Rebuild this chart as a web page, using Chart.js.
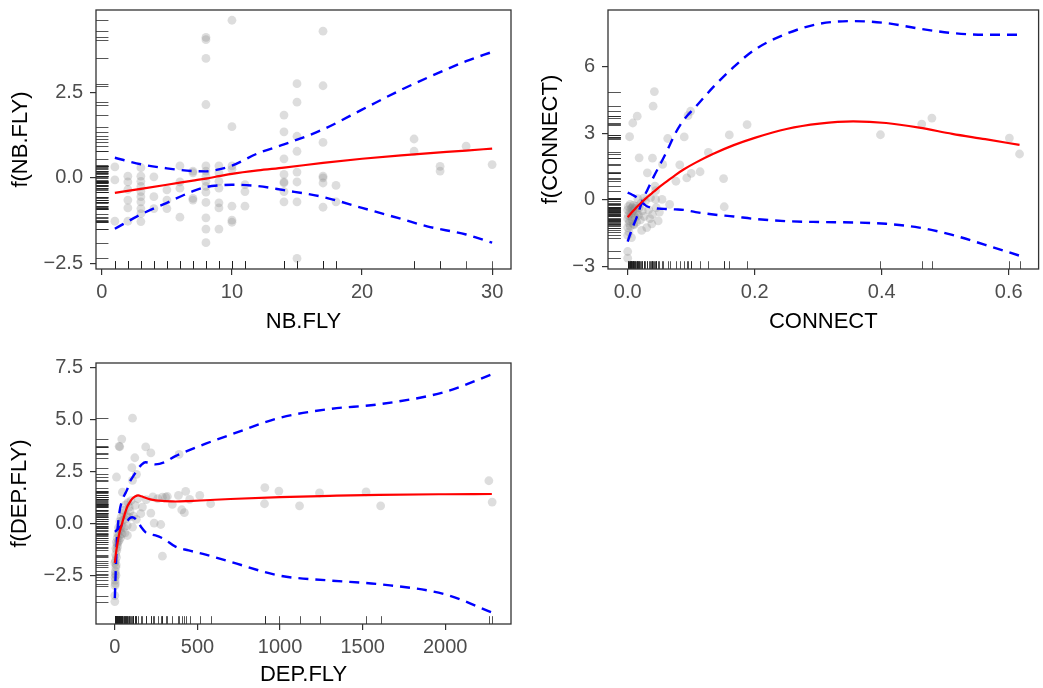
<!DOCTYPE html>
<html><head><meta charset="utf-8">
<script src="https://cdn.jsdelivr.net/npm/chart.js@4.4.1/dist/chart.umd.min.js"></script>
<style>
html,body{margin:0;padding:0;background:#fff;}
#wrap{position:relative;width:1043px;height:688px;overflow:hidden;background:#fff;}
canvas{position:absolute;}
</style></head><body>
<div id="wrap">
<canvas id="c1" width="520" height="340" style="left:0;top:0;width:520px;height:340px"></canvas>
<canvas id="c2" width="523" height="340" style="left:520px;top:0;width:523px;height:340px"></canvas>
<canvas id="c3" width="520" height="348" style="left:0;top:340px;width:520px;height:348px"></canvas>
</div>
<script>
// ---------- NB.FLY ----------
const nbflyPtX = [1,1,1, 2,2,2,2,2,2, 3,3,3,3,3,3,3,3,3,3, 4,4,4, 5,5,5, 6,6,6,6, 7,7,7,7, 8,8,8,8,8,8,8,8,8,8,8,8,8,8, 9,9,9,9,9,9,9, 10,10,10,10,10,10,10, 11,11,11, 14,14,14,14,14,14,14,14, 15,15,15,15,15,15,15,15, 17,17,17,17,17,17,17, 18,18, 24,24, 26,26, 28, 30];
const nbflyPtY = [0.32,-0.06,-1.27, 0.05,-0.12,-0.34,-0.65,-0.88,-1.27, 0.30,0.05,-0.10,-0.25,-0.40,-0.55,-0.70,-0.90,-1.05,-1.28, 0.03,-0.55,-0.90, -0.35,-0.65,-0.90, 0.35,-0.12,-0.30,-1.15, 0.20,0.15,-0.60,-0.65, 4.12,4.05,3.50,2.15,0.35,0.20,0.05,-0.10,-0.25,-0.42,-0.72,-1.17,-1.50,-1.90, 0.35,0.15,-0.10,-0.30,-0.73,-0.88,-1.50, 4.62,1.50,0.35,0.25,-0.83,-1.24,-1.30, -0.20,-0.40,-0.83, 1.84,1.35,0.56,0.10,-0.12,-0.15,-0.40,-0.70, 2.76,2.22,1.22,0.78,0.17,-0.12,-0.70,-2.36, 4.30,2.70,1.04,0.05,0.00,-0.15,-0.86, -0.22,-0.70, 1.14,0.78, 0.34,0.20, 0.93, 0.39];
const nbflyGridX = [1,3,5,7,8,9,10,12,14,17,20,23,25,28,30];
const nbflyFit   = [-0.44,-0.32,-0.20,-0.08,-0.02,0.05,0.12,0.22,0.30,0.44,0.56,0.66,0.72,0.80,0.86];
const nbflyUpper = [0.59,0.40,0.28,0.20,0.19,0.25,0.36,0.72,0.98,1.42,2.00,2.58,2.93,3.42,3.69];
const nbflyLower = [-1.49,-1.07,-0.73,-0.39,-0.27,-0.22,-0.20,-0.24,-0.36,-0.56,-0.88,-1.20,-1.42,-1.66,-1.90];
const nbflyXTicks = [0,10,20,30];
const nbflyYTicks = [-2.5,0,2.5];

// ---------- CONNECT ----------
const connectPtX = [0.000,0.000,0.003,0.008,0.015,0.018,0.042,0.040,0.039,0.031, 0.055,0.063,0.089,0.095,0.099,0.082,0.093,0.100,0.076,0.114, 0.127,0.151,0.152,0.160,0.188,0.398,0.463,0.479,0.601,0.617, 0.043,0.044,0.054,0.044,0.066,0.025,0.039,0.038,0.022,0.010,
  0.000,0.000,0.000,0.000,0.001,0.001,0.002,0.002,0.003,0.003, 0.004,0.004,0.005,0.005,0.006,0.006,0.007,0.007,0.008,0.009, 0.009,0.010,0.011,0.012,0.013,0.014,0.015,0.016,0.017,0.018, 0.020,0.021,0.023,0.026,0.028,0.030,0.033,0.035,0.036,0.045, 0.048,0.050];
const connectPtY = [-2.33,-2.63,2.85,3.47,3.78,1.90,4.89,4.23,1.88,1.22, 1.60,2.77,2.84,3.80,4.00,1.58,0.99,1.20,0.84,1.27, 2.14,0.96,-0.31,2.93,3.40,2.94,3.42,3.69,2.79,2.07, 0.62,0.42,0.02,0.02,-0.20,0.08,-0.66,-1.08,-1.38,-1.13,
  -0.45,-0.85,-1.25,-1.60,-0.30,-0.70,-1.05,-1.45,-0.55,-0.95, -0.20,-1.20,-0.40,-0.75,-0.60,-1.70,-0.35,-0.90,-0.50,-0.25, -1.10,-0.65,-0.40,-0.80,-0.30,-1.00,-0.55,0.05,-0.70,-0.35, -0.90,-0.15,-0.50,-0.75,-0.05,-1.25,-0.45,-0.85,0.10,-0.35, -0.95,-0.55];
const connectGridX = [0,0.007,0.014,0.02,0.026,0.031,0.041,0.052,0.06,0.075,0.088,0.107,0.135,0.167,0.2,0.25,0.302,0.355,0.407,0.459,0.511,0.563,0.617];
const connectFit   = [-0.78,-0.55,-0.33,-0.16,0.0,0.13,0.37,0.63,0.80,1.12,1.37,1.68,2.08,2.47,2.80,3.20,3.44,3.54,3.47,3.26,2.98,2.74,2.48];
const connectUpper = [-1.88,-1.30,-0.80,-0.30,0.15,0.45,1.05,1.65,2.10,3.00,3.60,4.20,5.10,6.00,6.78,7.50,7.95,8.07,7.98,7.73,7.53,7.45,7.45];
const connectLower = [0.33,0.23,0.12,-0.05,-0.20,-0.30,-0.37,-0.40,-0.41,-0.43,-0.45,-0.55,-0.66,-0.75,-0.86,-0.96,-1.00,-1.02,-1.08,-1.25,-1.58,-2.03,-2.52];
const connectXTicks = [0,0.2,0.4,0.6];
const connectYTicks = [-3,0,3,6];

// ---------- DEP.FLY ----------
const depPtX = [0,0,10,26,30,42,107,46,103,121, 131,107,187,218,389,308,288,385,429,453, 514,580,348,167,123,405,421,218,157,238, 278,288,107,87,76,46,36,26,16,10, 6,2,2,56,87,908,906,993,1118,1239, 1521,1609,2264,2284, 190,230,260,318,140, 0,1,3,4,5,6,8,9,12,14, 15,18,20,22,25,28,30,34,38,40, 44,50,55,60,65,70,75,80,92,98, 112,130,62,3,1,7];
const depPtY = [-3.77,-3.48,2.24,3.72,3.70,4.07,5.08,1.51,2.69,3.17, 2.37,2.08,3.69,3.40,3.33,1.27,1.27,1.35,1.55,1.16, 1.35,0.95,0.92,0.79,0.87,0.66,0.52,0.50,0.47,0.02, -0.05,-1.58,-0.18,0.31,-0.58,0.14,-0.34,-0.82,-1.14,-1.63, -2.11,-2.43,-2.75,0.63,0.79,1.73,0.95,1.56,0.85,1.47, 1.52,0.85,2.06,1.03, 1.15,1.28,1.20,1.30,1.20, -1.9,-2.6,-2.3,-1.8,-1.5,-1.2,-2.0,-0.9,-1.3,-0.7, -1.0,-0.5,-0.9,-0.2,-0.6,-0.3,0.1,-0.7,0.3,-0.1, -0.5,0.5,-0.2,0.2,0.9,0.4,-0.1,1.0,0.6,1.1, 0.35,0.2,-0.45,-2.9,-3.0,-2.5];
const depGridX = [0,5,14,28,44,60,74,90,105,125,141,160,185,215,246,300,367,447,550,700,1000,1300,1600,2000,2282];
const depFit   = [-1.90,-1.55,-1.06,-0.45,0.0,0.45,0.79,1.02,1.19,1.31,1.35,1.31,1.24,1.16,1.11,1.08,1.06,1.08,1.12,1.18,1.27,1.33,1.38,1.41,1.42];
const depUpper = [-3.60,-2.40,-0.60,0.55,1.10,1.40,1.62,2.00,2.20,2.45,2.65,2.82,2.95,2.92,2.85,2.95,3.25,3.52,3.85,4.28,5.10,5.52,5.75,6.35,7.19];
const depLower = [-0.40,-0.37,-0.30,-0.20,-0.08,0.0,0.10,0.25,0.30,0.22,0.06,-0.18,-0.42,-0.52,-0.58,-0.76,-1.12,-1.30,-1.50,-1.85,-2.52,-2.75,-2.93,-3.42,-4.29];
const depXTicks = [0,500,1000,1500,2000];
const depYTicks = [-2.5,0,2.5,5,7.5];

const FONT = "'Liberation Sans', Arial, Helvetica, sans-serif";

const boxRugPlugin = {
  id: 'boxRug',
  beforeDatasetsDraw(chart, args, opts) {
    const {ctx, chartArea: a, scales} = chart;
    const xs = scales.x, ys = scales.y;
    ctx.save();
    ctx.beginPath(); ctx.rect(a.left, a.top, a.right - a.left, a.bottom - a.top); ctx.clip();
    ctx.strokeStyle = 'rgba(30,30,30,0.75)';
    ctx.lineWidth = 1;
    const lx = 0.03 * (a.bottom - a.top), ly = 0.03 * (a.right - a.left);
    (opts.rugX || []).forEach(v => {
      const p = Math.round(xs.getPixelForValue(v)) + 0.5;
      ctx.beginPath(); ctx.moveTo(p, a.bottom); ctx.lineTo(p, a.bottom - lx); ctx.stroke();
    });
    (opts.rugY || []).forEach(v => {
      const p = Math.round(ys.getPixelForValue(v)) + 0.5;
      ctx.beginPath(); ctx.moveTo(a.left, p); ctx.lineTo(a.left + ly, p); ctx.stroke();
    });
    ctx.restore();
  },
  afterDraw(chart) {
    const {ctx, chartArea: a} = chart;
    ctx.save();
    ctx.strokeStyle = '#333';
    ctx.lineWidth = 1.3;
    ctx.strokeRect(a.left, a.top, a.right - a.left, a.bottom - a.top);
    ctx.restore();
  }
};

function fmt(v, d) { return Number(v).toFixed(d).replace('-', '\u2212'); }

function panel(id, o) {
  const pts = o.px.map((v, i) => ({x: v, y: o.py[i]}));
  const line = arr => o.gx.map((v, i) => ({x: v, y: arr[i]}));
  const lineDs = (arr, color, w, dash, ord) => ({
    data: line(arr), showLine: true, borderColor: color, borderWidth: w,
    borderDash: dash, pointRadius: 0, pointHoverRadius: 0, order: ord,
    cubicInterpolationMode: 'monotone', fill: false
  });
  new Chart(document.getElementById(id), {
    type: 'scatter',
    data: { datasets: [
      lineDs(o.fit, '#ff0000', 2.2, [], 0),
      lineDs(o.up, '#0000ff', 2.4, [10, 7], 1),
      lineDs(o.lo, '#0000ff', 2.4, [10, 7], 1),
      { data: pts, pointRadius: 4.4, pointHoverRadius: 4.4,
        pointBackgroundColor: 'rgba(128,128,128,0.27)', pointBorderWidth: 0,
        pointBorderColor: 'rgba(0,0,0,0)', order: 3 }
    ]},
    options: {
      responsive: false, animation: false, devicePixelRatio: 1,
      layout: { padding: o.pad },
      plugins: { legend: {display: false}, tooltip: {enabled: false},
                 boxRug: { rugX: o.px, rugY: o.py } },
      scales: {
        x: {
          type: 'linear', min: o.xmin, max: o.xmax,
          afterFit: s => { s.height = o.xh; s.paddingLeft = 0; s.paddingRight = 0; },
          afterBuildTicks: s => { s.ticks = o.xt.map(v => ({value: v})); },
          ticks: { callback: v => fmt(v, o.xd), color: '#4d4d4d',
                   font: {family: FONT, size: 20}, padding: 5, maxRotation: 0, autoSkip: false },
          grid: { drawOnChartArea: false, drawTicks: true, tickLength: 6, color: '#333', lineWidth: 1.2 },
          border: { display: false },
          title: { display: true, text: o.xtitle, color: '#000',
                   font: {family: FONT, size: 22}, padding: {top: 0, bottom: o.xtpad} }
        },
        y: {
          type: 'linear', min: o.ymin, max: o.ymax,
          afterFit: s => { s.width = o.yw; s.paddingTop = 0; s.paddingBottom = 0; },
          afterBuildTicks: s => { s.ticks = o.yt.map(v => ({value: v})); },
          ticks: { callback: v => fmt(v, o.yd), color: '#4d4d4d',
                   font: {family: FONT, size: 20}, padding: 7, autoSkip: false },
          grid: { drawOnChartArea: false, drawTicks: true, tickLength: 6, color: '#333', lineWidth: 1.2 },
          border: { display: false },
          title: { display: true, text: o.ytitle, color: '#000',
                   font: {family: FONT, size: 22}, padding: {top: o.ytpad, bottom: 0} }
        }
      }
    },
    plugins: [boxRugPlugin]
  });
}

panel('c1', {
  px: nbflyPtX, py: nbflyPtY, gx: nbflyGridX, fit: nbflyFit, up: nbflyUpper, lo: nbflyLower,
  xmin: -0.45, xmax: 31.45, ymin: -2.67, ymax: 4.92, xt: nbflyXTicks, yt: nbflyYTicks, xd: 0, yd: 1,
  xtitle: 'NB.FLY', ytitle: 'f(NB.FLY)', pad: {top: 10, right: 9, left: 0, bottom: 0},
  xh: 71, yw: 96, xtpad: 5, ytpad: 8
});
panel('c2', {
  px: connectPtX, py: connectPtY, gx: connectGridX, fit: connectFit, up: connectUpper, lo: connectLower,
  xmin: -0.031, xmax: 0.647, ymin: -3.12, ymax: 8.57, xt: connectXTicks, yt: connectYTicks, xd: 1, yd: 0,
  xtitle: 'CONNECT', ytitle: 'f(CONNECT)', pad: {top: 10, right: 4, left: 0, bottom: 0},
  xh: 71, yw: 88, xtpad: 5, ytpad: 18
});
panel('c3', {
  px: depPtX, py: depPtY, gx: depGridX, fit: depFit, up: depUpper, lo: depLower,
  xmin: -114, xmax: 2398, ymin: -4.85, ymax: 7.74, xt: depXTicks, yt: depYTicks, xd: 0, yd: 1,
  xtitle: 'DEP.FLY', ytitle: 'f(DEP.FLY)', pad: {top: 23, right: 9, left: 0, bottom: 0},
  xh: 64, yw: 96, xtpad: 0, ytpad: 7
});
</script>
</body></html>
